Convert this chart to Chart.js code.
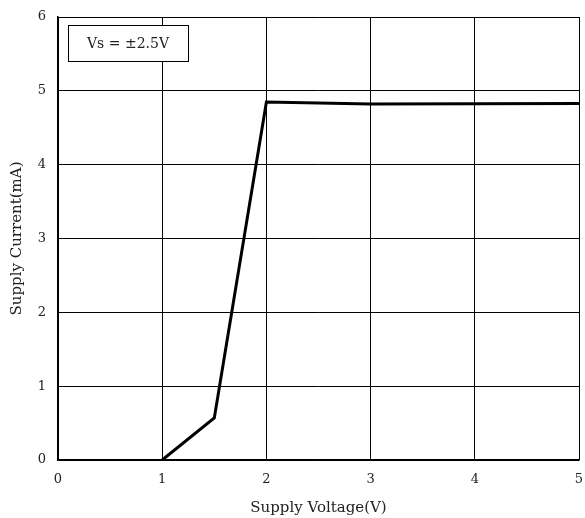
<!DOCTYPE html>
<html>
<head>
<meta charset="utf-8">
<script src="https://cdn.jsdelivr.net/npm/chart.js@4/dist/chart.umd.min.js"></script>
<style>
  html, body { margin: 0; padding: 0; background: #fff; }
  #wrap { width: 585px; height: 518px; position: relative; }
</style>
</head>
<body>
<div id="wrap"><canvas id="supplyChart"></canvas></div>
<script>
// values
const voltage = [1, 1.5, 2, 3, 5];
const current = [0, 0.57, 4.85, 4.82, 4.83];
const xTicks = [0, 1, 2, 3, 4, 5];
const yTicks = [0, 1, 2, 3, 4, 5, 6];
const noteText = 'Vs = \u00b12.5V';

const serif = "'DejaVu Serif', 'Liberation Serif', serif";

// boxed note in the upper left corner
const notePlugin = {
    id: 'noteBox',
    afterDatasetsDraw(chart) {
        const ctx = chart.ctx;
        const area = chart.chartArea;
        const x = area.left + 10, y = area.top + 8, w = 120, h = 36;
        ctx.save();
        ctx.fillStyle = '#fff';
        ctx.fillRect(x, y, w, h);
        ctx.strokeStyle = '#000';
        ctx.lineWidth = 1;
        ctx.strokeRect(x + 0.5, y + 0.5, w, h);
        ctx.fillStyle = '#222';
        ctx.font = '14px ' + serif;
        ctx.textAlign = 'center';
        ctx.textBaseline = 'middle';
        ctx.fillText(noteText, x + w / 2, y + h / 2 + 1);
        ctx.restore();
    }
};

new Chart(document.getElementById('supplyChart').getContext('2d'), {
    type: 'line',
    data: {
        datasets: [{
            data: voltage.map((v, i) => ({ x: v, y: current[i] })),
            borderColor: '#000',
            borderWidth: 3,
            pointRadius: 0,
            tension: 0,
            fill: false
        }]
    },
    options: {
        responsive: true,
        maintainAspectRatio: false,
        animation: false,
        layout: { padding: { top: 17, right: 6, left: 0, bottom: 0 } },
        plugins: {
            legend: { display: false },
            tooltip: { enabled: false }
        },
        scales: {
            x: {
                type: 'linear',
                min: 0,
                max: 5,
                afterBuildTicks: (s) => { s.ticks = xTicks.map(v => ({ value: v })); },
                afterFit: (s) => { s.height = 58; s.paddingLeft = 0; s.paddingRight = 0; },
                grid: { color: '#000', lineWidth: 1, drawTicks: false },
                border: { color: '#000', width: 1.5 },
                ticks: { color: '#222', padding: 12, font: { family: serif, size: 13 } },
                title: {
                    display: true,
                    text: 'Supply Voltage(V)',
                    color: '#222',
                    font: { family: serif, size: 15 },
                    padding: { top: 0, bottom: 1 }
                }
            },
            y: {
                min: 0,
                max: 6,
                afterBuildTicks: (s) => { s.ticks = yTicks.map(v => ({ value: v })); },
                afterFit: (s) => { s.width = 58; s.paddingTop = 0; s.paddingBottom = 0; },
                grid: { color: '#000', lineWidth: 1, drawTicks: false },
                border: { color: '#000', width: 1.5 },
                ticks: { color: '#222', padding: 12, font: { family: serif, size: 13 } },
                title: {
                    display: true,
                    text: 'Supply Current(mA)',
                    color: '#222',
                    font: { family: serif, size: 15 },
                    padding: { top: 8, bottom: 0 }
                }
            }
        }
    },
    plugins: [notePlugin]
});
</script>
</body>
</html>
